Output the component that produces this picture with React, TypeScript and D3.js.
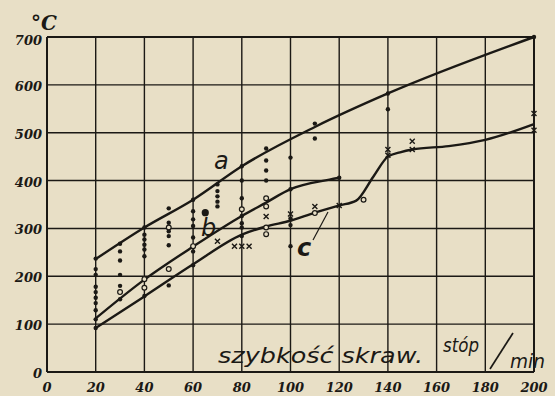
import React from "react";
import * as d3 from "d3";

const xTicks = [0, 20, 40, 60, 80, 100, 120, 140, 160, 180, 200];
const yTicks = [0, 100, 200, 300, 400, 500, 600, 700];

// curve a (top)
const curveA: [number, number][] = [
  [20, 236], [40, 302], [60, 360], [80, 430], [110, 512], [140, 582], [200, 700],
];
// curve b (middle)
const curveB: [number, number][] = [
  [20, 112], [40, 193], [60, 262], [80, 326], [90, 354], [100, 382], [116, 402], [120, 406],
];
// curve c (bottom)
const curveC: [number, number][] = [
  [20, 92], [40, 158], [60, 225], [80, 287], [90, 304], [100, 316], [110, 333], [120, 348],
  [127, 358], [134, 408], [140, 450], [145, 459], [150, 465], [165, 472], [180, 485], [200, 518],
];

const filledDots: [number, number][] = [
  [20, 237], [20, 215], [20, 203], [20, 178], [20, 167], [20, 155], [20, 144], [20, 129], [20, 110], [20, 92],
  [30, 268], [30, 252], [30, 233], [30, 203], [30, 180], [30, 152],
  [40, 302], [40, 287], [40, 277], [40, 266], [40, 256], [40, 242], [40, 159],
  [50, 342], [50, 312], [50, 294], [50, 284], [50, 265], [50, 181],
  [60, 360], [60, 336], [60, 319], [60, 305], [60, 281], [60, 252], [60, 223],
  [70, 392], [70, 378], [70, 367], [70, 356], [70, 346],
  [80, 430], [80, 400], [80, 363], [80, 326], [80, 311], [80, 302], [80, 284],
  [90, 467], [90, 442], [90, 421], [90, 400],
  [100, 448], [100, 382], [100, 321], [100, 307], [100, 263],
  [110, 519], [110, 488],
  [120, 406],
  [140, 582], [140, 549],
  [200, 700],
];
const bigDots: [number, number][] = [[65, 333]];

const openDots: [number, number][] = [
  [30, 167], [40, 194], [40, 176], [50, 302], [50, 215], [60, 263], [80, 340],
  [90, 363], [90, 346], [90, 302], [90, 288], [110, 332], [130, 360],
];

const crosses: [number, number][] = [
  [70, 273], [77, 263], [80, 263], [83, 263], [90, 325], [100, 330], [110, 346],
  [120, 348], [140, 465], [140, 453], [150, 482], [150, 465], [200, 540], [200, 505],
];

const W = 555;
const H = 396;

export default function App() {
  React.useEffect(() => {
    document.body.style.margin = "0";
  }, []);
  const x = d3.scaleLinear().domain([0, 200]).range([47, 534]);
  const y = d3.scaleLinear().domain([0, 700]).range([372, 37]);
  const line = d3
    .line<[number, number]>()
    .x((d) => x(d[0]))
    .y((d) => y(d[1]))
    .curve(d3.curveMonotoneX);

  const ink = "#1b1915";
  const numFont = "'DejaVu Serif', serif";
  const handFont = "'DejaVu Sans', sans-serif";

  return (
    <svg width={W} height={H} style={{ display: "block" }}>
      <rect x={0} y={0} width={W} height={H} fill="#e8dfc6" />
      {/* grid */}
      {xTicks.map((t) => (
        <line key={"vx" + t} x1={x(t)} x2={x(t)} y1={y(0)} y2={y(700)} stroke={ink}
          strokeWidth={t === 0 || t === 200 ? 2 : 1.4} />
      ))}
      {yTicks.map((t) => (
        <line key={"hy" + t} x1={x(0)} x2={x(200)} y1={y(t)} y2={y(t)} stroke={ink}
          strokeWidth={t === 0 || t === 700 ? 2 : 1.4} />
      ))}
      {/* tick labels */}
      {yTicks.map((t) => (
        <text key={"yl" + t} x={x(0) - 5} y={y(t) + (t === 700 ? 8 : 6)} textAnchor="end" fontFamily={numFont}
          fontStyle="italic" fontWeight="bold" fontSize={13} fill={ink}>
          {t}
        </text>
      ))}
      {xTicks.map((t) => (
        <text key={"xl" + t} x={x(t)} y={392} textAnchor="middle" fontFamily={numFont}
          fontStyle="italic" fontWeight="bold" fontSize={13} fill={ink}>
          {t}
        </text>
      ))}
      <text x={31} y={30} fontFamily={numFont} fontStyle="italic" fontWeight="bold" fontSize={20} fill={ink}>
        °C
      </text>
      {/* curves */}
      {[curveA, curveB, curveC].map((c, i) => (
        <path key={"c" + i} d={line(c) || ""} fill="none" stroke={ink} strokeWidth={2.4} />
      ))}
      {/* markers */}
      {filledDots.map((d, i) => (
        <circle key={"f" + i} cx={x(d[0])} cy={y(d[1])} r={2.2} fill={ink} />
      ))}
      {bigDots.map((d, i) => (
        <circle key={"bd" + i} cx={x(d[0])} cy={y(d[1])} r={3.6} fill={ink} />
      ))}
      {openDots.map((d, i) => (
        <circle key={"o" + i} cx={x(d[0])} cy={y(d[1])} r={2.4} fill="#e8dfc6" stroke={ink} strokeWidth={1.2} />
      ))}
      {crosses.map((d, i) => (
        <path key={"x" + i}
          d={`M${x(d[0]) - 2.5},${y(d[1]) - 2.5}L${x(d[0]) + 2.5},${y(d[1]) + 2.5}M${x(d[0]) + 2.5},${y(d[1]) - 2.5}L${x(d[0]) - 2.5},${y(d[1]) + 2.5}`}
          stroke={ink} strokeWidth={1.4} />
      ))}
      {/* curve labels */}
      <text x={214} y={169} fontFamily={handFont} fontStyle="italic" fontSize={24} fill={ink}>a</text>
      <text x={201} y={236} fontFamily={handFont} fontStyle="italic" fontSize={24} fill={ink}>b</text>
      <text x={297} y={256} fontFamily={handFont} fontStyle="italic" fontWeight="bold" fontSize={24} fill={ink}>c</text>
      <line x1={313} y1={240} x2={328} y2={212} stroke={ink} strokeWidth={1.2} />
      {/* axis title */}
      <text x={218} y={363} fontFamily={handFont} fontStyle="italic" fontSize={22} textLength={205}
        lengthAdjust="spacingAndGlyphs" fill={ink}>
        szybkość skraw.
      </text>
      <text x={443} y={352} fontFamily={handFont} fontStyle="italic" fontSize={19} textLength={36}
        lengthAdjust="spacingAndGlyphs" fill={ink}>stóp</text>
      <line x1={490} y1={369} x2={513} y2={333} stroke={ink} strokeWidth={1.7} />
      <text x={510} y={368} fontFamily={handFont} fontStyle="italic" fontSize={20} textLength={35}
        lengthAdjust="spacingAndGlyphs" fill={ink}>min</text>
    </svg>
  );
}
